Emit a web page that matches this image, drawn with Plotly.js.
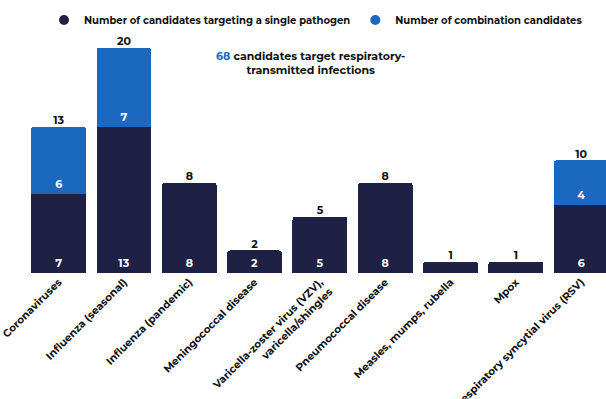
<!DOCTYPE html>
<html><head><meta charset="utf-8">
<script src="https://cdn.plot.ly/plotly-3.0.1.min.js"></script>
<style>html,body{margin:0;padding:0;background:#fff}#chart{width:606px;height:399px}</style>
</head><body><div id="chart"></div>
<script>
const categories = ["Coronaviruses","Influenza (seasonal)","Influenza (pandemic)","Meningococcal disease","Varicella-zoster virus (VZV),<br>varicella/shingles","Pneumococcal disease","Measles, mumps, rubella","Mpox","Respiratory syncytial virus (RSV)"];
const singlePathogen = [7,13,8,2,5,8,1,1,6];
const combination = [6,7,0,0,0,0,0,0,4];
const totals = singlePathogen.map((v,i)=>v+combination[i]);

const navy = "#1e2044", blue = "#1a68c0";
const font = "Montserrat, 'Noto Sans', 'Open Sans', sans-serif";

const data = [
  {type:"bar", x:categories, y:singlePathogen, name:"Number of candidates targeting a single pathogen",
   marker:{color:navy}, showlegend:false,
   text:singlePathogen.map(v=>v>1?String(v):""), textposition:"inside", insidetextanchor:"start",
   textfont:{color:"#fff", size:11, family:font, weight:700}, hoverinfo:"skip"},
  {type:"bar", x:categories, y:combination, name:"Number of combination candidates",
   marker:{color:blue}, showlegend:false,
   text:combination.map(v=>v>0?String(v):""), textposition:"inside", insidetextanchor:"start",
   textfont:{color:"#fff", size:11, family:font, weight:700}, hoverinfo:"skip"},
  {type:"scatter", mode:"text", x:categories, y:totals, text:totals.map(String), textposition:"top center",
   textfont:{color:"#111", size:11, family:font, weight:700}, showlegend:false, hoverinfo:"skip", cliponaxis:false},
  {type:"scatter", mode:"markers", x:[null], y:[null], name:"Number of candidates targeting a single pathogen",
   marker:{color:navy, size:10, symbol:"circle"}},
  {type:"scatter", mode:"markers", x:[null], y:[null], name:"Number of combination candidates",
   marker:{color:blue, size:10, symbol:"circle"}}
];

const layout = {
  width:606, height:399,
  margin:{l:26, r:0, t:40, b:126},
  barmode:"stack", bargap:0.16, barcornerradius:3,
  paper_bgcolor:"#fff", plot_bgcolor:"#fff",
  font:{family:font, color:"#111"},
  xaxis:{range:[-0.5,8.38], tickangle:-45, tickfont:{size:10.5, family:font, weight:700, color:"#111"},
         showgrid:false, zeroline:false, showline:false, ticks:"", fixedrange:true},
  yaxis:{range:[0,20.7], visible:false, fixedrange:true},
  legend:{orientation:"h", x:0.5, xanchor:"center", y:1.086, yanchor:"middle", traceorder:"normal",
          font:{size:10, family:font, weight:700, color:"#111"}, itemwidth:30},
  annotations:[{xref:"paper", yref:"paper", x:0.49, y:0.9, xanchor:"center", yanchor:"middle", showarrow:false,
    text:"<span style='color:"+blue+"'>68</span> candidates target respiratory-<br>transmitted infections",
    font:{size:11, family:font, weight:700, color:"#111"}, align:"center"}]
};

Plotly.newPlot("chart", data, layout, {displayModeBar:false, staticPlot:true});
</script></body></html>
